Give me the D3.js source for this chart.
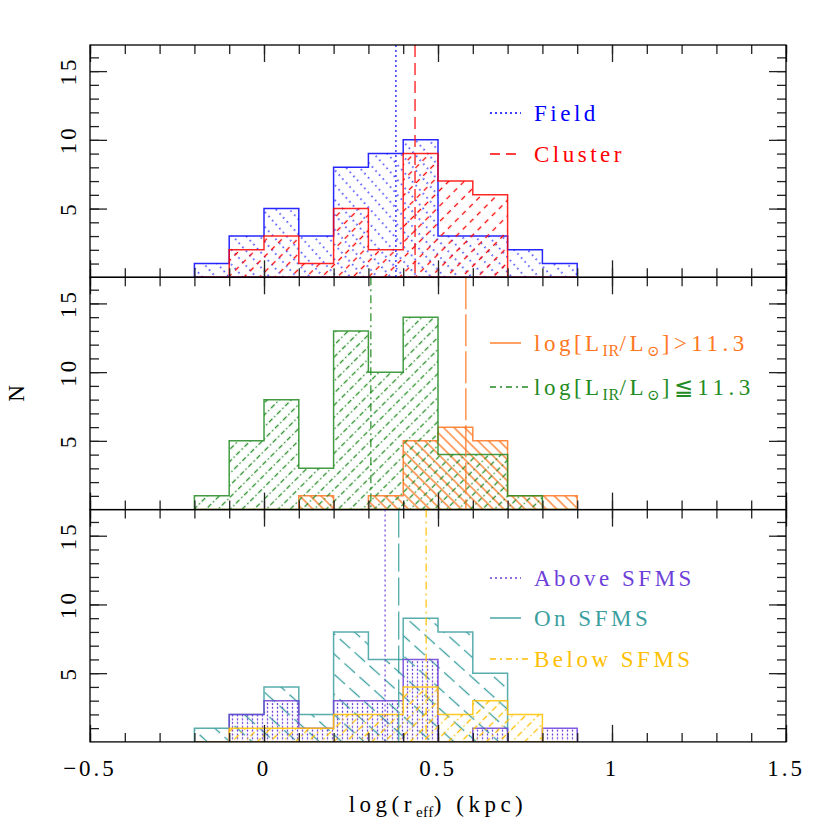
<!DOCTYPE html>
<html>
<head>
<meta charset="utf-8">
<script src="https://cdnjs.cloudflare.com/ajax/libs/d3/7.8.5/d3.min.js"></script>
<style>
  body { margin: 0; background: #fff; }
  text { font-family: "Liberation Serif", "DejaVu Serif", serif; }
</style>
</head>
<body>
<svg id="chart" width="830" height="830"></svg>
<script>
// histogram bins: left edges, width 0.1 in log(r_eff)
var binStart = [-0.2, -0.1, 0.0, 0.1, 0.2, 0.3, 0.4, 0.5, 0.6, 0.7, 0.8];
var binWidth = 0.1;

// counts per bin
var fieldN   = [1, 3, 5, 3, 8, 9, 10, 3, 3, 2, 1];
var clusterN = [0, 2, 3, 1, 5, 2, 9, 7, 6, 0, 0];
var irHighN  = [0, 0, 0, 1, 0, 1, 5, 6, 5, 1, 1];
var irLowN   = [1, 5, 8, 3, 13, 10, 14, 4, 4, 1, 0];
var aboveN   = [0, 2, 3, 1, 3, 3, 6, 0, 1, 0, 1];
var onN      = [1, 2, 4, 2, 8, 6, 9, 8, 5, 0, 0];
var belowN   = [0, 1, 1, 1, 2, 2, 4, 2, 3, 2, 0];

// medians (vertical lines)
var medians = {field: 0.379, cluster: 0.434, irHigh: 0.58, irLow: 0.307, above: 0.348, on: 0.387, below: 0.466};

var xMajor = [-0.5, 0, 0.5, 1, 1.5];
var yMajor = [5, 10, 15];

var panels = [
  {series: [
    {key: "field", n: fieldN, color: "#0000ff", angle: -42, gap: 10, hdash: "1.4,4", line: "2,3", label: "Field"},
    {key: "cluster", n: clusterN, color: "#ff0000", angle: 45, gap: 11, hdash: "5,5", line: "12,6", label: "Cluster"}
  ], legendY: [113, 154], sample: ["2,3", "10,6"]},
  {series: [
    {key: "irHigh", n: irHighN, color: "#ff7722", angle: -45, gap: 7.5, hdash: null, line: "32,5", label: "hi"},
    {key: "irLow", n: irLowN, color: "#228b22", angle: 45, gap: 8.5, hdash: "5,2.5,1.5,2.5", line: "8,4,2,4", label: "lo"}
  ], legendY: [343, 387], sample: [null, "6,4,2,4"]},
  {series: [
    {key: "on", n: onN, color: "#3c9f9f", angle: -48, gap: 15, hdash: "14,6", line: "28,6", label: "On SFMS"},
    {key: "above", n: aboveN, color: "#6d3ed8", angle: 0, gap: 5, hdash: "2,1.8", line: "2,3", label: "Above SFMS"},
    {key: "below", n: belowN, color: "#ffbf00", angle: 45, gap: 9, hdash: "6,3,1.5,3", line: "8,4,2,4", label: "Below SFMS"}
  ], legendY: [618, 578, 659], sample: [null, "2,3", "6,4,2,4"]}
];

var svg = d3.select("#chart");
var defs = svg.append("defs");

var x = d3.scaleLinear().domain([-0.5, 1.5]).range([90, 786]);
var panelTop = 45, panelH = 232.3;

function hatch(s) {
  var period = s.hdash ? d3.sum(s.hdash.split(",").map(Number)) : 10;
  var h = period * Math.ceil(30 / period);
  var p = defs.append("pattern")
      .attr("id", "h-" + s.key)
      .attr("patternUnits", "userSpaceOnUse")
      .attr("width", s.gap)
      .attr("height", h)
      .attr("patternTransform", "rotate(" + s.angle + ")");
  p.append("line")
      .attr("x1", s.gap / 2).attr("x2", s.gap / 2)
      .attr("y1", 0).attr("y2", h)
      .attr("stroke", s.color)
      .attr("stroke-width", 1.3)
      .attr("stroke-dasharray", s.hdash);
}

panels.forEach(function(p, i) {
  var top = panelTop + i * panelH, bot = top + panelH;
  var y = d3.scaleLinear().domain([0, 16.9]).range([bot, top]);

  defs.append("clipPath").attr("id", "clip" + i)
    .append("rect").attr("x", x(-0.5)).attr("y", top).attr("width", x(1.5) - x(-0.5)).attr("height", panelH);

  var g = svg.append("g").attr("clip-path", "url(#clip" + i + ")");

  p.series.forEach(function(s) {
    hatch(s);
    var pts = binStart.map(function(b, k) { return {x: b, n: s.n[k]}; });
    pts.push({x: binStart[binStart.length - 1] + binWidth, n: s.n[s.n.length - 1]});
    var area = d3.area()
        .curve(d3.curveStepAfter)
        .x(d => x(d.x))
        .y0(y(0))
        .y1(d => y(d.n));
    g.append("path")
        .attr("d", area(pts))
        .attr("fill", "url(#h-" + s.key + ")")
        .attr("stroke", s.color)
        .attr("stroke-width", 1.5)
        .attr("stroke-opacity", 0.85);
  });

  p.series.forEach(function(s) {
    g.append("line")
        .attr("x1", x(medians[s.key])).attr("x2", x(medians[s.key]))
        .attr("y1", top).attr("y2", bot)
        .attr("stroke", s.color)
        .attr("stroke-width", 1.4)
        .attr("stroke-opacity", 0.85)
        .attr("stroke-dasharray", s.line);
  });

  // ticks on all four sides, pointing inward
  var xMinor = d3.range(-5, 16).map(v => v / 10);
  var yMinor = d3.range(1, 17);
  [[d3.axisBottom, bot], [d3.axisTop, top]].forEach(function(a) {
    svg.append("g").attr("class", "ax").attr("transform", "translate(0," + a[1] + ")")
        .call(a[0](x).tickValues(xMinor).tickSizeInner(-9).tickSizeOuter(0).tickFormat(""));
    svg.append("g").attr("class", "ax").attr("transform", "translate(0," + a[1] + ")")
        .call(a[0](x).tickValues(xMajor).tickSizeInner(-17).tickSizeOuter(0).tickFormat(""));
  });
  [[d3.axisLeft, x(-0.5)], [d3.axisRight, x(1.5)]].forEach(function(a) {
    svg.append("g").attr("class", "ax").attr("transform", "translate(" + a[1] + ",0)")
        .call(a[0](y).tickValues(yMinor).tickSizeInner(-9).tickSizeOuter(0).tickFormat(""));
    svg.append("g").attr("class", "ax").attr("transform", "translate(" + a[1] + ",0)")
        .call(a[0](y).tickValues(yMajor).tickSizeInner(-17).tickSizeOuter(0).tickFormat(""));
  });

  svg.append("rect")
      .attr("x", x(-0.5)).attr("y", top)
      .attr("width", x(1.5) - x(-0.5)).attr("height", panelH)
      .attr("fill", "none").attr("stroke", "#000").attr("stroke-width", 1.3);

  // rotated y tick labels
  svg.selectAll(null).data(yMajor).enter().append("text")
      .attr("transform", d => "translate(68," + y(d) + ") rotate(-90)")
      .attr("text-anchor", "middle")
      .attr("dominant-baseline", "central")
      .attr("font-size", 23)
      .attr("letter-spacing", 3)
      .text(d => d);

  // legend
  p.series.forEach(function(s, k) {
    var ly = p.legendY[k];
    svg.append("line")
        .attr("x1", 490).attr("x2", s.key == "irLow" || s.key == "below" ? 530 : 521)
        .attr("y1", ly).attr("y2", ly)
        .attr("stroke", s.color).attr("stroke-width", 1.4)
        .attr("stroke-dasharray", p.sample[k]);
    var t = svg.append("text")
        .attr("x", 534).attr("y", ly + 8)
        .attr("fill", s.color)
        .attr("font-size", 23)
        .attr("letter-spacing", 3.5);
    if (s.key == "irHigh" || s.key == "irLow") {
      t.append("tspan").text("log[L");
      t.append("tspan").attr("font-size", 16).attr("dy", 5).attr("letter-spacing", 0.5).text("IR");
      t.append("tspan").attr("dy", -5).text("/L");
      t.append("tspan").attr("font-size", 15).attr("dy", 5).attr("letter-spacing", 2).text("⊙");
      t.append("tspan").attr("dy", -5).attr("letter-spacing", 4.5).text("]" + (s.key == "irHigh" ? ">" : "≦") + "11.3");
    } else {
      t.text(s.label);
    }
  });
});

svg.selectAll(".ax path").remove();
svg.selectAll(".ax line").attr("stroke", "#222").attr("stroke-width", 1.3);

// x tick labels under the bottom panel
var bottomY = panelTop + 3 * panelH;
svg.selectAll(null).data(xMajor).enter().append("text")
    .attr("x", d => x(d))
    .attr("y", bottomY + 34)
    .attr("text-anchor", "middle")
    .attr("font-size", 23)
    .attr("letter-spacing", 3)
    .text(d => d3.format("")(d));

var xl = svg.append("text")
    .attr("x", x(0.5)).attr("y", bottomY + 70)
    .attr("text-anchor", "middle")
    .attr("font-size", 23)
    .attr("letter-spacing", 4.5);
xl.append("tspan").text("log(r");
xl.append("tspan").attr("font-size", 15).attr("dy", 5).attr("letter-spacing", 0.5).text("eff");
xl.append("tspan").attr("dy", -5).text(")  (kpc)");

svg.append("text")
    .attr("transform", "translate(16," + (panelTop + 1.5 * panelH) + ") rotate(-90)")
    .attr("text-anchor", "middle")
    .attr("dominant-baseline", "central")
    .attr("font-size", 23)
    .text("N");
</script>
</body>
</html>
